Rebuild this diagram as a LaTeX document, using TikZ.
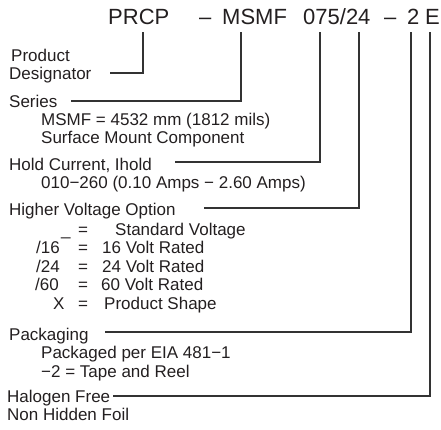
\documentclass[tikz,border=0pt]{standalone}
\usepackage{fontspec}
\setmainfont{Liberation Sans}
\definecolor{txt}{HTML}{231F20}
\definecolor{lc}{HTML}{333333}
\tikzset{
  lbl/.style={anchor=base west, inner sep=0pt, text=txt, font=\fontsize{17}{20}\selectfont},
  ttl/.style={anchor=base west, inner sep=0pt, text=txt, font=\fontsize{22}{26}\selectfont},
  conn/.style={draw=lc, line width=1.1pt}
}
\begin{document}
\begin{tikzpicture}[x=1pt,y=-1pt]
\useasboundingbox (0,0) rectangle (441,429);
% title
\node[ttl] (prcp) at (108,24) {PRCP};
\node[ttl] (d1) at (199,24) {–};
\node[ttl] (msmf) at (222,24) {MSMF};
\node[ttl] (cur) at (303,24) {075/24};
\node[ttl] (d2) at (384,24) {–};
\node[ttl] (pk) at (407,24) {2};
\node[ttl] (hf) at (425,24) {E};
% labels
\node[lbl] (prod) at (11,61) {Product};
\node[lbl] (desig) at (9,79) {Designator};
\node[lbl] (series) at (9,107) {Series};
\node[lbl] (s1) at (41,125) {MSMF = 4532 mm (1812 mils)};
\node[lbl] (s2) at (41,143) {Surface Mount Component};
\node[lbl] (hold) at (9,170) {Hold Current, Ihold};
\node[lbl] (h1) at (41,188) {010−260 (0.10 Amps − 2.60 Amps)};
\node[lbl] (hv) at (9,215) {Higher Voltage Option};
\node[lbl] (v1a) at (61,235) {\_};
\node[lbl] (v1b) at (78,235) {=};
\node[lbl] (v1c) at (115,235) {Standard Voltage};
\node[lbl] (v2a) at (36,253) {/16};
\node[lbl] (v2b) at (78,253) {=};
\node[lbl] (v2c) at (102,253) {16 Volt Rated};
\node[lbl] (v3a) at (36,272) {/24};
\node[lbl] (v3b) at (78,272) {=};
\node[lbl] (v3c) at (102,272) {24 Volt Rated};
\node[lbl] (v4a) at (35,290) {/60};
\node[lbl] (v4b) at (78,290) {=};
\node[lbl] (v4c) at (101,290) {60 Volt Rated};
\node[lbl] (v5a) at (53,309) {X};
\node[lbl] (v5b) at (78,309) {=};
\node[lbl] (v5c) at (104,309) {Product Shape};
\node[lbl] (pack) at (9,340) {Packaging};
\node[lbl] (p1) at (41,358) {Packaged per EIA 481−1};
\node[lbl] (p2) at (41,377) {−2 = Tape and Reel};
\node[lbl] (halo) at (7,402) {Halogen Free};
\node[lbl] (halo2) at (7,420) {Non Hidden Foil};
% connector points
\coordinate (a0) at (143,32); \coordinate (a1) at (110,73);
\coordinate (b0) at (241,32); \coordinate (b1) at (71,101);
\coordinate (c0) at (320,32); \coordinate (c1) at (175,162);
\coordinate (e0) at (359,32); \coordinate (e1) at (204,208);
\coordinate (f0) at (411,32); \coordinate (f1) at (105,332);
\coordinate (g0) at (430,32); \coordinate (g1) at (113,396);
\draw[conn] (a0) |- (a1);
\draw[conn] (b0) |- (b1);
\draw[conn] (c0) |- (c1);
\draw[conn] (e0) |- (e1);
\draw[conn] (f0) |- (f1);
\draw[conn] (g0) |- (g1);
\end{tikzpicture}
\end{document}
